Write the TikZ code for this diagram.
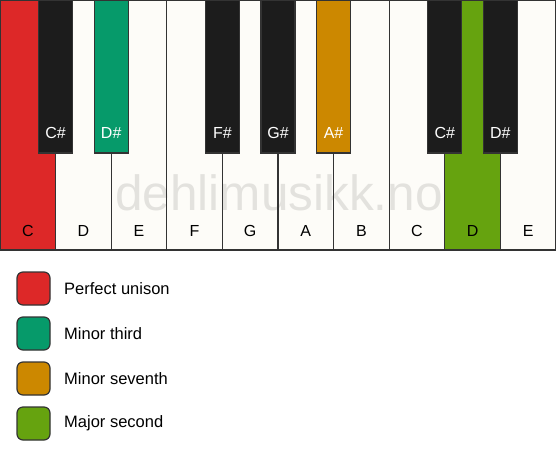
\documentclass[tikz,border=0pt]{standalone}
\usepackage{fontspec}
\setmainfont{Liberation Sans}
\definecolor{ivory}{HTML}{FDFCF8}
\definecolor{keyblack}{HTML}{1C1C1C}
\definecolor{edge}{HTML}{333333}
\definecolor{cred}{HTML}{DD2828}
\definecolor{cteal}{HTML}{069A6A}
\definecolor{corange}{HTML}{CC8800}
\definecolor{clime}{HTML}{66A30F}
\tikzset{
  whitekey/.style={draw=edge, line width=1.1pt, fill=ivory, minimum width=55.6pt, minimum height=250pt, anchor=north west, inner sep=0pt, outer sep=0pt},
  blackkey/.style={draw=edge, line width=1.1pt, fill=keyblack, minimum width=34pt, minimum height=153pt, anchor=north, inner sep=0pt, outer sep=0pt},
  keylabel/.style={font=\fontsize{16}{19}\selectfont, inner sep=0pt},
  legbox/.style={draw=keyblack!90, line width=1.2pt, rounded corners=6pt, minimum width=33pt, minimum height=33pt, inner sep=0pt},
  legtext/.style={font=\fontsize{16.5}{20}\selectfont, anchor=west, inner sep=0pt}
}
\begin{document}
\begin{tikzpicture}[x=1pt,y=-1pt]
\useasboundingbox[fill=white] (0,0) rectangle (556,461);
% white keys
\foreach \i/\n/\c in {0/C/cred,1/D/ivory,2/E/ivory,3/F/ivory,4/G/ivory,5/A/ivory,6/B/ivory,7/C/ivory,8/D/clime,9/E/ivory}{
  \node[whitekey, fill=\c] (w\i) at ({55.6*\i},0) {};
}
% watermark
\node[font=\fontsize{49.5}{58}\selectfont, text=black, opacity=0.1, anchor=base, inner sep=0pt] (wm) at (279,210) {dehlimusikk.no};
% redraw white key borders over watermark
\foreach \i in {0,...,9}{
  \draw[edge, line width=1.1pt] (w\i.north west) rectangle (w\i.south east);
}
% black keys
\foreach \b/\n/\c in {1/C\#/keyblack,2/D\#/cteal,4/F\#/keyblack,5/G\#/keyblack,6/A\#/corange,8/C\#/keyblack,9/D\#/keyblack}{
  \node[blackkey, fill=\c] (b\b) at ({55.6*\b},0) {};
  \node[keylabel, text=white] (bl\b) at ({55.6*\b},133) {\n};
}
% white key labels
\foreach \i/\n in {0/C,1/D,2/E,3/F,4/G,5/A,6/B,7/C,8/D,9/E}{
  \node[keylabel, text=black] (wl\i) at ({55.6*\i+27.8},230.5) {\n};
}
% legend
\node[legbox, fill=cred] (l1) at (33.5,288.5) {};
\node[legtext] (t1) at (64,288.5) {Perfect unison};
\node[legbox, fill=cteal] (l2) at (33.5,333.5) {};
\node[legtext] (t2) at (64,333.5) {Minor third};
\node[legbox, fill=corange] (l3) at (33.5,378.5) {};
\node[legtext] (t3) at (64,378.5) {Minor seventh};
\node[legbox, fill=clime] (l4) at (33.5,423.5) {};
\node[legtext] (t4) at (64,423.5) {Major second};
\end{tikzpicture}
\end{document}
